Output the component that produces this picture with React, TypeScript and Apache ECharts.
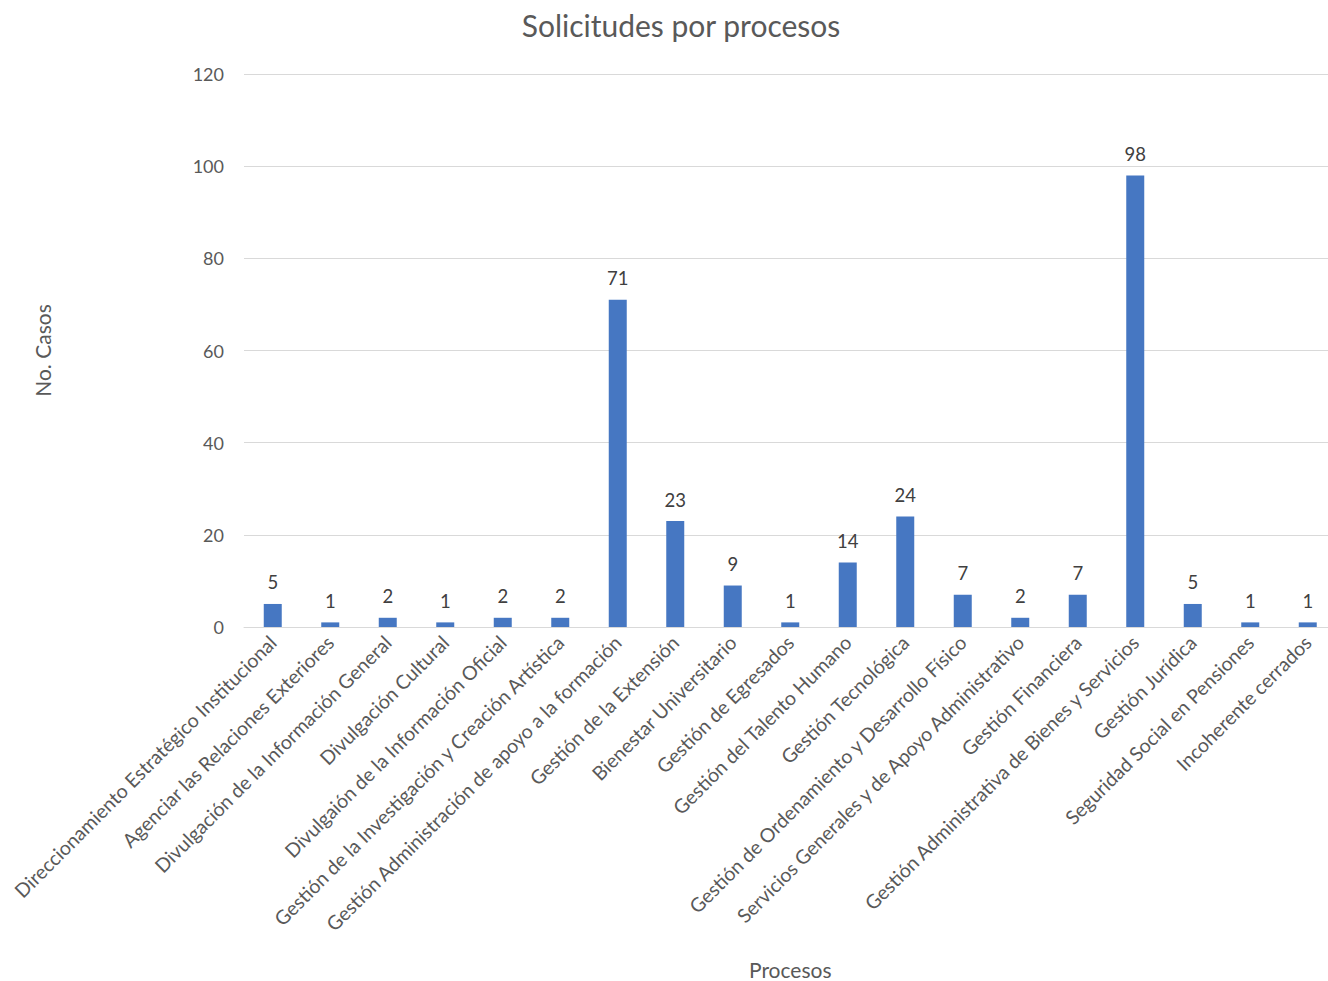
import React, { useEffect, useRef } from "react";
import * as echarts from "echarts";

const categories = [
  "Direccionamiento Estratégico Institucional",
  "Agenciar las Relaciones Exteriores",
  "Divulgación de la Información General",
  "Divulgación Cultural",
  "Divulgaión de la Información Oficial",
  "Gestión de la Investigación y Creación Artística",
  "Gestión Administración de apoyo a la formación",
  "Gestión de la Extensión",
  "Bienestar Universitario",
  "Gestión de Egresados",
  "Gestión del Talento Humano",
  "Gestión Tecnológica",
  "Gestión de Ordenamiento y Desarrollo Físico",
  "Servicios Generales y de Apoyo Administrativo",
  "Gestión Financiera",
  "Gestión Administrativa de Bienes y Servicios",
  "Gestión Jurídica",
  "Seguridad Social en Pensiones",
  "Incoherente cerrados",
];

const casos = [5, 1, 2, 1, 2, 2, 71, 23, 9, 1, 14, 24, 7, 2, 7, 98, 5, 1, 1];

const FONT = "Lato, 'Open Sans', sans-serif";

export default function App() {
  const ref = useRef<HTMLDivElement>(null);

  useEffect(() => {
    document.body.style.margin = "0";
    if (!ref.current) return;
    const chart = echarts.init(ref.current, undefined, { renderer: "svg" });
    chart.setOption({
      animation: false,
      backgroundColor: "#ffffff",
      title: {
        text: "Solicitudes por procesos",
        left: 676,
        top: 5,
        textAlign: "center",
        textStyle: {
          fontFamily: FONT,
          fontSize: 30,
          fontWeight: "normal",
          color: "#595959",
        },
      },
      grid: {
        left: 244,
        top: 74,
        width: 1092.5,
        height: 553,
        containLabel: false,
        outerBoundsMode: "none",
      },
      xAxis: {
        type: "category",
        data: categories,
        name: "Procesos",
        nameLocation: "middle",
        nameGap: 332,
        nameTextStyle: { fontFamily: FONT, fontSize: 21, color: "#595959" },
        axisLine: { lineStyle: { color: "#d9d9d9", width: 1 } },
        axisTick: { show: false },
        axisLabel: {
          interval: 0,
          rotate: 45,
          margin: 12,
          fontFamily: FONT,
          fontSize: 19.5,
          color: "#595959",
        },
      },
      yAxis: {
        type: "value",
        min: 0,
        max: 120,
        interval: 20,
        name: "No. Casos",
        nameLocation: "middle",
        nameGap: 191,
        nameTextStyle: { fontFamily: FONT, fontSize: 21, color: "#595959" },
        axisLine: { show: false },
        axisTick: { show: false },
        axisLabel: {
          margin: 20,
          fontFamily: FONT,
          fontSize: 18,
          color: "#595959",
        },
        splitLine: { lineStyle: { color: "#d9d9d9", width: 1 } },
      },
      series: [
        {
          type: "bar",
          data: casos,
          barWidth: 18,
          itemStyle: { color: "#4677C2" },
          label: {
            show: true,
            position: "top",
            distance: 12,
            fontFamily: FONT,
            fontSize: 18.5,
            color: "#404040",
          },
        },
      ],
    });
    return () => chart.dispose();
  }, []);

  return <div ref={ref} style={{ width: 1328, height: 981 }} />;
}
